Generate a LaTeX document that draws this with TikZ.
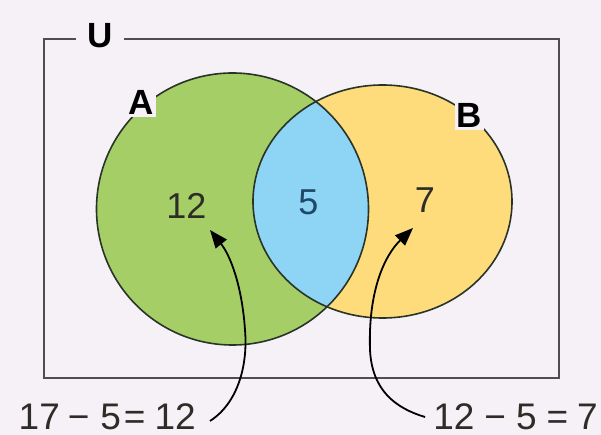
\documentclass[tikz,border=0pt]{standalone}
\usepackage{fontspec}
\setmainfont{Liberation Sans}
\usetikzlibrary{arrows.meta}

\definecolor{bg}{RGB}{246,241,246}
\definecolor{setA}{RGB}{166,206,102}
\definecolor{setB}{RGB}{254,220,124}
\definecolor{both}{RGB}{142,212,244}
\definecolor{rim}{RGB}{40,52,40}
\definecolor{frame}{RGB}{78,78,78}
\definecolor{numblue}{RGB}{30,72,104}
\definecolor{numdark}{RGB}{45,45,40}

\tikzset{
  setname/.style={font=\fontsize{35}{40}\selectfont\bfseries, fill=bg, inner sep=2pt},
  count/.style={font=\fontsize{36}{40}\selectfont, anchor=base, inner sep=0pt},
  calc/.style={font=\fontsize{37}{40}\selectfont, anchor=base east, inner sep=0pt,
               text depth=0pt, text=numdark},
  pointer/.style={line width=1.8pt, -{Triangle[length=18pt,width=14pt]}},
}

\begin{document}
\begin{tikzpicture}[x=1pt,y=-1pt]
  \fill[bg] (0,0) rectangle (601,435);
  \useasboundingbox (0,0) rectangle (601,435);

  % universe frame
  \draw[frame, line width=2pt] (44,39) rectangle (559,378);

  % set regions
  \fill[setA] (232.5,209) circle [radius=136pt];
  \fill[setB] (382.5,201.5) ellipse [x radius=129.5pt, y radius=116.5pt];
  \begin{scope}
    \clip (232.5,209) circle [radius=136pt];
    \fill[both] (382.5,201.5) ellipse [x radius=129.5pt, y radius=116.5pt];
  \end{scope}
  \draw[rim, line width=1.6pt] (232.5,209) circle [radius=136pt];
  \draw[rim, line width=1.6pt] (382.5,201.5) ellipse [x radius=129.5pt, y radius=116.5pt];

  % set names
  \node[setname, inner xsep=11pt, inner ysep=0pt] (U) at (100,36) {U};
  \node[setname] (A) at (141.5,102.5) {A};
  \node[setname] (B) at (469.5,115.5) {B};

  % region counts
  \node[count, text=numdark] (nA) at (186.5,219) {12};
  \node[count, text=numblue] (nAB) at (308.5,215) {5};
  \node[count, text=numdark] (nB) at (425,213) {7};

  % worked differences
  \node[calc] (cA) at (196,429) {17\kern8pt−\kern11pt5\kern3pt=\kern9pt12};
  \node[calc] (cB) at (598,429) {12\kern10pt−\kern10pt5\kern10pt=\kern9pt7};

  % arrow end points
  \coordinate (tailA) at (210,421);
  \coordinate (tipA) at (210,230);
  \coordinate (tailB) at (425,417);
  \coordinate (tipB) at (413,228);

  \draw[pointer] (tailA) .. controls (238,403) and (248,365) .. (245,330)
                 .. controls (242,285) and (230,255) .. (tipA);
  \draw[pointer] (tailB) .. controls (395,408) and (372,390) .. (370,350)
                 .. controls (368,290) and (385,255) .. (tipB);
\end{tikzpicture}
\end{document}
